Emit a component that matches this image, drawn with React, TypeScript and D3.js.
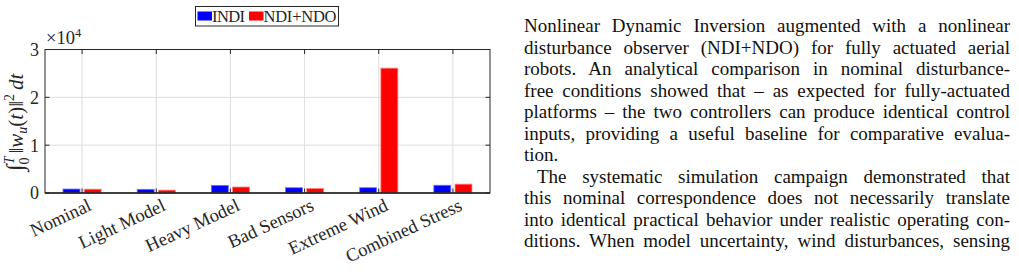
import { useEffect, useRef } from 'react'
import * as d3 from 'd3'

// control effort per scenario
const scenarios = ['Nominal', 'Light Model', 'Heavy Model', 'Bad Sensors', 'Extreme Wind', 'Combined Stress']
const indiEffort = [830, 770, 1600, 1100, 1100, 1620]
const ndoEffort = [800, 600, 1250, 950, 26100, 1850]
const seriesNames = ['INDI', 'NDI+NDO']
const seriesColors = ['#0000ff', '#ff0000']
const seriesEdges = ['#7070ff', '#ff8080']
const yTicks = [0, 10000, 20000, 30000]

const paragraphLines = [
  'Nonlinear Dynamic Inversion augmented with a nonlinear',
  'disturbance observer (NDI+NDO) for fully actuated aerial',
  'robots. An analytical comparison in nominal disturbance-',
  'free conditions showed that \u2013 as expected for fully-actuated',
  'platforms \u2013 the two controllers can produce identical control',
  'inputs, providing a useful baseline for comparative evalua-',
  'tion.',
  'The systematic simulation campaign demonstrated that',
  'this nominal correspondence does not necessarily translate',
  'into identical practical behavior under realistic operating con-',
  'ditions. When model uncertainty, wind disturbances, sensing',
]
// lines that end a paragraph are set ragged
const raggedLines = [6]
const indentedLines = [7]

const W = 1019
const H = 275
const plot = { left: 45, right: 490, top: 49.5, bottom: 193 }
const axisColor = '#262626'
const gridColor = '#dedede'
const serif = '"Liberation Serif", "DejaVu Serif", serif'

const para = { left: 524, right: 1010, top: 32, lineHeight: 21.5, fontSize: 19, indent: 13 }

export default function App() {
  const svgRef = useRef<SVGSVGElement>(null)

  const x = d3.scaleLinear().domain([0.5, scenarios.length + 0.5]).range([plot.left, plot.right])
  const y = d3.scaleLinear().domain([0, 30000]).range([plot.bottom, plot.top])

  // grouped bar layout: two series share 0.571 of the slot
  const groupWidth = Math.min(0.8, 2 / (2 + 1.5))
  const barWidth = (groupWidth / 2) * 0.8
  const offsets = [-groupWidth / 4, groupWidth / 4]
  const series = [indiEffort, ndoEffort]

  useEffect(() => {
    if (!svgRef.current) return
    // justify the paragraph by stretching the word spacing
    d3.select(svgRef.current)
      .selectAll<SVGTextElement, unknown>('text.para-line')
      .each(function () {
        const target = Number(this.getAttribute('data-width'))
        if (!target) return
        this.setAttribute('word-spacing', '0')
        const natural = this.getComputedTextLength()
        const spaces = (this.textContent || '').split(' ').length - 1
        if (spaces > 0) this.setAttribute('word-spacing', String((target - natural) / spaces))
      })
  }, [])

  const tickLen = 4.5

  return (
    <svg
      ref={svgRef}
      width={W}
      height={H}
      style={{ position: 'absolute', left: 0, top: 0, background: '#fff' }}
      fontFamily={serif}
    >
      {/* grid */}
      {scenarios.map((_, i) => (
        <line key={'gx' + i} x1={x(i + 1)} x2={x(i + 1)} y1={plot.top} y2={plot.bottom} stroke={gridColor} />
      ))}
      {yTicks.slice(1, -1).map((t) => (
        <line key={'gy' + t} x1={plot.left} x2={plot.right} y1={y(t)} y2={y(t)} stroke={gridColor} />
      ))}

      {/* bars */}
      {series.map((vals, s) =>
        vals.map((v, i) => (
          <rect
            key={`b${s}-${i}`}
            x={x(i + 1 + offsets[s] - barWidth / 2)}
            y={y(v)}
            width={x(barWidth) - x(0)}
            height={y(0) - y(v)}
            fill={seriesColors[s]}
            stroke={seriesEdges[s]}
            strokeWidth={0.8}
          />
        ))
      )}

      {/* ticks, inside on all four sides */}
      {scenarios.map((_, i) => (
        <g key={'tx' + i} stroke={axisColor}>
          <line x1={x(i + 1)} x2={x(i + 1)} y1={plot.top} y2={plot.top + tickLen} />
          <line x1={x(i + 1)} x2={x(i + 1)} y1={plot.bottom} y2={plot.bottom - tickLen} />
        </g>
      ))}
      {yTicks.map((t) => (
        <g key={'ty' + t} stroke={axisColor}>
          <line x1={plot.left} x2={plot.left + tickLen} y1={y(t)} y2={y(t)} />
          <line x1={plot.right} x2={plot.right - tickLen} y1={y(t)} y2={y(t)} />
        </g>
      ))}

      {/* axes box */}
      <rect
        x={plot.left}
        y={plot.top}
        width={plot.right - plot.left}
        height={plot.bottom - plot.top}
        fill="none"
        stroke={axisColor}
        strokeWidth={1}
      />
      <line x1={plot.left} x2={plot.right} y1={plot.bottom} y2={plot.bottom} stroke={axisColor} strokeWidth={1.4} />

      {/* y tick labels */}
      {yTicks.map((t) => (
        <text
          key={'yl' + t}
          x={plot.left - 6}
          y={y(t)}
          dy="0.36em"
          textAnchor="end"
          fontSize={18}
          fill={axisColor}
        >
          {t / 10000}
        </text>
      ))}
      <text x={plot.left + 1} y={plot.top - 6} fontSize={18.5} fill={axisColor}>
        {'\u00d710'}
        <tspan dy={-7} fontSize={12.5}>4</tspan>
      </text>

      {/* y axis label */}
      <text
        transform={`translate(${23},${(plot.top + plot.bottom) / 2 + 1}) rotate(-90)`}
        textAnchor="middle"
        fontSize={21}
        fill={axisColor}
      >
        <tspan fontSize={24}>{'\u222b'}</tspan>
        <tspan dy={-9} fontSize={14} fontStyle="italic">T</tspan>
        <tspan dx={-8} dy={15} fontSize={14}>0</tspan>
        <tspan dx={4} dy={-6}>{'\u2016'}</tspan>
        <tspan fontStyle="italic">w</tspan>
        <tspan dy={4} fontSize={14} fontStyle="italic">u</tspan>
        <tspan dy={-4}>(</tspan>
        <tspan fontStyle="italic">t</tspan>
        <tspan>{')\u2016'}</tspan>
        <tspan dy={-9} fontSize={14}>2</tspan>
        <tspan dx={4} dy={9} fontStyle="italic">{'dt'}</tspan>
      </text>

      {/* x tick labels */}
      {scenarios.map((name, i) => (
        <text
          key={'xl' + i}
          transform={`translate(${x(i + 1) + 5},${plot.bottom + 5}) rotate(-25)`}
          textAnchor="end"
          dominantBaseline="hanging"
          fontSize={18.5}
          fill={axisColor}
        >
          {name}
        </text>
      ))}

      {/* legend */}
      <g>
        <rect x={195.5} y={6.5} width={143} height={19.5} fill="#fff" stroke={axisColor} strokeWidth={1} />
        {[
          { px: 197.5, tx: 212 },
          { px: 249, tx: 263.5 },
        ].map((p, s) => (
          <g key={'lg' + s}>
            <rect x={p.px} y={11.5} width={14.5} height={9} fill={seriesColors[s]} />
            <text x={p.tx} y={21.5} fontSize={16.5} fill={axisColor} textLength={s === 0 ? 33 : 73}>
              {seriesNames[s]}
            </text>
          </g>
        ))}
      </g>

      {/* body text */}
      {paragraphLines.map((line, i) => {
        const left = para.left + (indentedLines.includes(i) ? para.indent : 0)
        const ragged = raggedLines.includes(i)
        return (
          <text
            key={'p' + i}
            className="para-line"
            data-width={ragged ? 0 : para.right - left}
            x={left}
            y={para.top + i * para.lineHeight}
            fontSize={para.fontSize}
            fill="#111"
          >
            {line}
          </text>
        )
      })}
    </svg>
  )
}
